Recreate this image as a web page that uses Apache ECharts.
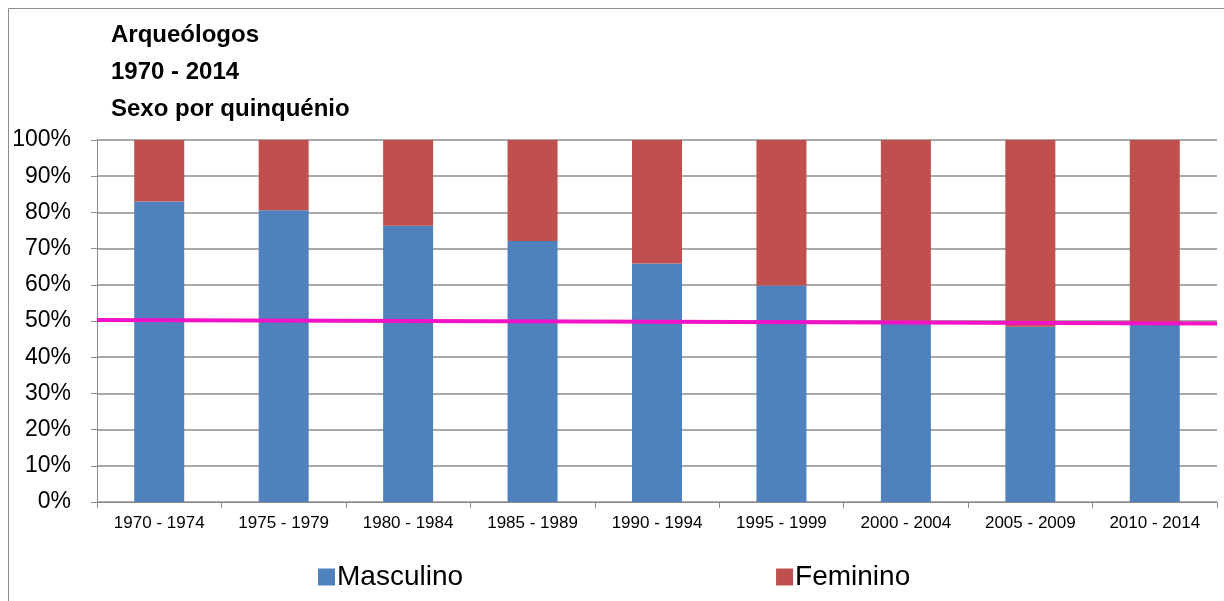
<!DOCTYPE html>
<html>
<head>
<meta charset="utf-8">
<script src="https://cdn.jsdelivr.net/npm/echarts@6/dist/echarts.min.js"></script>
<style>
  html, body { margin: 0; padding: 0; background: #fff; }
  #chart { width: 1224px; height: 601px; }
</style>
</head>
<body>
<div id="chart"></div>
<script>
const categories = ['1970 - 1974', '1975 - 1979', '1980 - 1984', '1985 - 1989', '1990 - 1994', '1995 - 1999', '2000 - 2004', '2005 - 2009', '2010 - 2014']
// percentagem masculina por quinquénio
const masculino = [83.0, 80.6, 76.3, 72.1, 65.9, 59.8, 49.4, 48.4, 49.4]
const feminino = masculino.map(v => +(100 - v).toFixed(1))
// linha de referência (início, fim)
const refLine = [[0, 50.3], [1, 49.3]]
const yTicks = [0, 10, 20, 30, 40, 50, 60, 70, 80, 90, 100]

const fontFamily = '"Liberation Sans", Arial, sans-serif'

const option = {
  animation: false,
  backgroundColor: '#fff',
  textStyle: { fontFamily },
  title: {
    text: 'Arqueólogos\n1970 - 2014\nSexo por quinquénio',
    left: 106,
    top: 12,
    textStyle: { fontSize: 24, fontWeight: 'bold', color: '#000', lineHeight: 37, fontFamily }
  },
  graphic: [
    {
      type: 'rect',
      shape: { x: 8.5, y: 8.5, width: 1240, height: 620 },
      style: { fill: 'none', stroke: '#8c8c8c', lineWidth: 1 },
      silent: true
    }
  ],
  legend: {
    data: ['Masculino', 'Feminino'],
    left: 313,
    top: 558,
    itemWidth: 17,
    itemHeight: 17,
    itemGap: 313,
    icon: 'rect',
    textStyle: { fontSize: 28, color: '#000', fontFamily, padding: [0, 0, 0, -3] }
  },
  grid: { left: 97, right: 7, top: 140, bottom: 99 },
  xAxis: [
    {
      type: 'category',
      data: categories,
      axisLine: { lineStyle: { color: '#8c8c8c', width: 1 } },
      axisTick: { show: true, length: 6, alignWithLabel: false, lineStyle: { color: '#8c8c8c' } },
      axisLabel: { fontSize: 17, color: '#000', margin: 13, fontFamily }
    },
    {
      type: 'value',
      min: 0,
      max: 1,
      show: false
    }
  ],
  yAxis: {
    type: 'value',
    min: 0,
    max: 100,
    interval: 10,
    axisLine: { show: true, lineStyle: { color: '#8c8c8c', width: 1 } },
    axisTick: { show: true, length: 6, lineStyle: { color: '#8c8c8c' } },
    splitLine: { show: true, lineStyle: { color: '#8c8c8c', width: 1.5 } },
    axisLabel: {
      fontSize: 23,
      color: '#000',
      margin: 26,
      fontFamily,
      formatter: v => (yTicks.includes(v) ? v + '%' : '')
    }
  },
  series: [
    {
      name: 'Masculino',
      type: 'bar',
      stack: 'total',
      barWidth: 50,
      itemStyle: { color: '#4F81BD' },
      data: masculino
    },
    {
      name: 'Feminino',
      type: 'bar',
      stack: 'total',
      barWidth: 50,
      itemStyle: { color: '#C0504D' },
      data: feminino
    },
    {
      name: 'ref',
      type: 'line',
      xAxisIndex: 1,
      symbol: 'none',
      lineStyle: { color: '#F212C8', width: 4 },
      data: refLine,
      z: 5
    }
  ]
}

echarts.init(document.getElementById('chart')).setOption(option)
</script>
</body>
</html>
